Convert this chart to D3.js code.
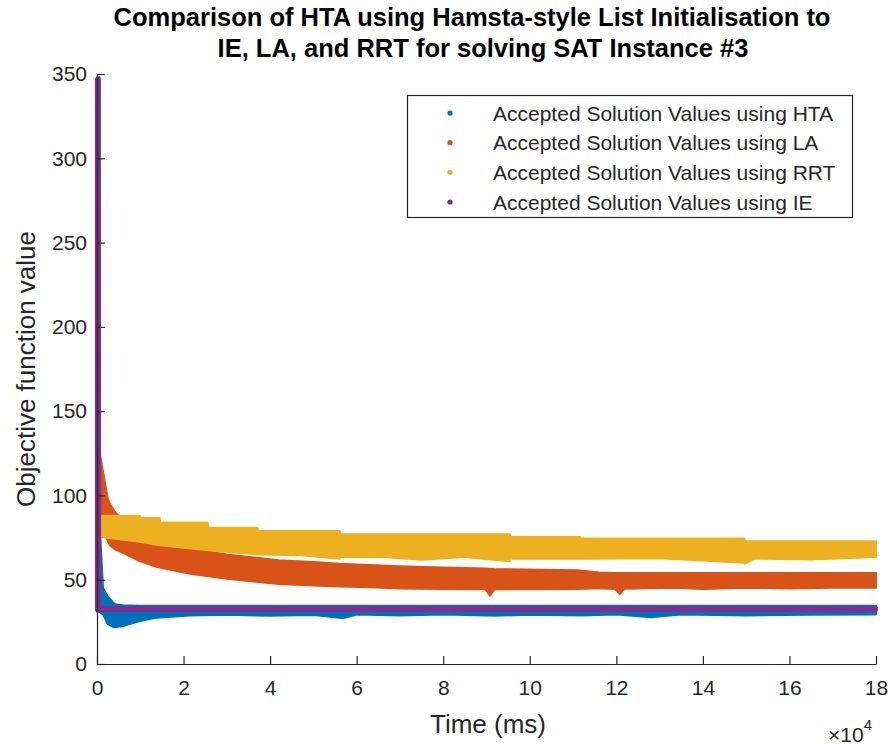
<!DOCTYPE html>
<html>
<head>
<meta charset="utf-8">
<script src="https://cdn.jsdelivr.net/npm/d3@7"></script>
<style>
  html, body { margin: 0; padding: 0; background: #fff; }
  svg { display: block; font-family: "Liberation Sans", Arial, Helvetica, sans-serif; }
</style>
</head>
<body>
<svg id="chart" width="890" height="745"></svg>
<script>
// ---------------- data ----------------
const titleLines = [
  "Comparison of HTA using Hamsta-style List Initialisation to",
  "IE, LA, and RRT for solving SAT Instance #3"
];
const xTickValues = [0, 2, 4, 6, 8, 10, 12, 14, 16, 18];      // ×10^4 ms
const yTickValues = [0, 50, 100, 150, 200, 250, 300, 350];
const seriesNames = [
  "Accepted Solution Values using HTA",
  "Accepted Solution Values using LA",
  "Accepted Solution Values using RRT",
  "Accepted Solution Values using IE"
];
const seriesColors = ["#0072BD", "#D95319", "#EDB120", "#7E2F8E"];

// Each series is drawn as the envelope (low / high) of its accepted values over time (ms)
const htaTime = [0, 600, 700, 1400, 2500, 3700, 4200, 6000, 9900, 13900, 21500, 30000, 40000, 50000, 57000, 60000, 70000, 80000, 92000, 100000, 112000, 120000, 128000, 135000, 150000, 165000, 180000];
const htaHigh = [348, 348, 78, 45, 40, 36.5, 35.5, 34.8, 34.6, 34.6, 34.6, 34.6, 34.6, 34.6, 34.6, 34.6, 34.6, 34.6, 34.6, 34.6, 34.6, 34.6, 34.6, 34.6, 34.6, 34.6, 34.6];
const htaLow  = [31, 31, 30.5, 29.5, 23.6, 22, 21.8, 22.5, 25.5, 27.5, 28.8, 29.2, 28.6, 29, 27.2, 29.3, 28.7, 29.3, 28.6, 29.2, 28.7, 29.4, 27.8, 29.3, 28.8, 29.2, 29.3];

const laTime = [400, 700, 1400, 2500, 3000, 4200, 6000, 9900, 13900, 21500, 30000, 42000, 50000, 56000, 63000, 70000, 80000, 89800, 90800, 91800, 111000, 116000, 119800, 120800, 121800, 133000, 140000, 150000, 160000, 170000, 180000];
const laHigh = [126, 124, 114, 98, 95, 90, 85, 79, 73.5, 68.5, 65, 61.5, 60.5, 59.5, 58.8, 58, 57.2, 56.6, 56.5, 56.4, 55.6, 54.3, 54, 54, 54, 54, 54, 54, 54, 54, 54];
const laLow  = [82, 80, 79, 73, 70.5, 68, 66, 61, 57.5, 53.5, 50.5, 47.5, 46.5, 46, 45.5, 44.8, 44.5, 44.3, 40.5, 44.3, 44.5, 45, 44.5, 41.5, 44.6, 45.2, 44.5, 45.3, 44.8, 45.2, 45.2];

const rrtTime = [400, 9900, 10000, 14500, 14600, 25600, 25700, 37100, 37200, 47000, 56100, 56200, 66000, 75000, 85000, 95400, 95500, 111600, 111700, 130000, 149600, 149700, 152000, 165000, 180000];
const rrtHigh = [88, 88, 86.6, 86.6, 84, 84, 80.8, 80.8, 78.9, 78.9, 78.9, 77, 77, 77, 77, 77, 75.3, 75.3, 74.5, 74.5, 74.5, 72.8, 72.8, 72.8, 72.8];
const rrtLow  = [75.5, 72.5, 72.4, 70.5, 70.5, 67.5, 67.5, 65, 65, 64.5, 62.5, 63.5, 63.5, 61.8, 63.5, 61, 62.5, 62.5, 62.5, 62.8, 60, 59.5, 62.5, 62, 63.5];

const ieTime = [0, 400, 500, 180000];
const ieHigh = [347, 347, 33.2, 33.2];
const ieLow  = [32, 32, 32, 32];

// ---------------- drawing ----------------
const svg = d3.select("#chart");
const axisColor = "#262626";

const x = d3.scaleLinear().domain([0, 180000]).range([97, 876]);
const y = d3.scaleLinear().domain([0, 350]).range([664, 74]);

const series = [
  { t: htaTime, hi: htaHigh, lo: htaLow, color: seriesColors[0], sw: 2 },
  { t: laTime,  hi: laHigh,  lo: laLow,  color: seriesColors[1], sw: 2 },
  { t: rrtTime, hi: rrtHigh, lo: rrtLow, color: seriesColors[2], sw: 2 },
  { t: ieTime,  hi: ieHigh,  lo: ieLow,  color: seriesColors[3], sw: 4 }
];

const area = d3.area()
  .x(d => x(d.t))
  .y0(d => y(d.lo))
  .y1(d => y(d.hi));

const gData = svg.append("g");
series.forEach(s => {
  const pts = s.t.map((t, i) => ({ t: t, hi: s.hi[i], lo: s.lo[i] }));
  gData.append("path")
    .attr("d", area(pts))
    .attr("fill", s.color)
    .attr("stroke", s.color)
    .attr("stroke-width", s.sw)
    .attr("stroke-linejoin", "round");
});

// axes (MATLAB style: box off, ticks inside)
const fmtX = d => String(d / 10000);
const xAxis = d3.axisBottom(x)
  .tickValues(xTickValues.map(v => v * 10000))
  .tickFormat(fmtX)
  .tickSizeInner(-8).tickSizeOuter(0).tickPadding(16);
const yAxis = d3.axisLeft(y)
  .tickValues(yTickValues)
  .tickSizeInner(-8).tickSizeOuter(0).tickPadding(10);

const gx = svg.append("g").attr("transform", `translate(0,${y(0)})`).call(xAxis);
const gy = svg.append("g").attr("transform", `translate(${x(0)},0)`).call(yAxis);
[gx, gy].forEach(g => {
  g.select(".domain").attr("stroke", axisColor).attr("stroke-width", 1.2);
  g.selectAll(".tick line").attr("stroke", axisColor).attr("stroke-width", 1.2);
  g.selectAll(".tick text")
    .attr("fill", axisColor)
    .style("font-size", "21px")
    .style("font-family", '"Liberation Sans", Arial, sans-serif');
});

// exponent label
const expG = svg.append("text")
  .attr("x", 872).attr("y", 742)
  .attr("text-anchor", "end")
  .attr("fill", axisColor)
  .style("font-size", "21px");
expG.append("tspan").text("\u00d710");
expG.append("tspan").attr("dy", -12).style("font-size", "15px").text("4");

// axis labels
svg.append("text")
  .attr("x", 488).attr("y", 733)
  .attr("text-anchor", "middle")
  .attr("fill", axisColor)
  .style("font-size", "26px")
  .text("Time (ms)");

svg.append("text")
  .attr("transform", `translate(35,${(74 + 664) / 2}) rotate(-90)`)
  .attr("text-anchor", "middle")
  .attr("fill", axisColor)
  .style("font-size", "26px")
  .text("Objective function value");

// title
const titleCenters = [472, 483];
titleLines.forEach((line, i) => {
  svg.append("text")
    .attr("x", titleCenters[i]).attr("y", 26 + i * 31)
    .attr("text-anchor", "middle")
    .attr("fill", "#000")
    .style("font-size", "25.5px")
    .style("font-weight", "bold")
    .text(line);
});

// legend
const legend = svg.append("g");
legend.append("rect")
  .attr("x", 407.5).attr("y", 95.5)
  .attr("width", 445).attr("height", 122)
  .attr("fill", "#fff")
  .attr("stroke", axisColor)
  .attr("stroke-width", 1.2);
const legY = d3.scalePoint().domain(seriesNames).range([113, 202]);
seriesNames.forEach((name, i) => {
  legend.append("circle")
    .attr("cx", 450).attr("cy", legY(name))
    .attr("r", 2.6)
    .attr("fill", seriesColors[i]);
  legend.append("text")
    .attr("x", 493).attr("y", legY(name))
    .attr("dy", "0.36em")
    .attr("fill", axisColor)
    .style("font-size", "21px")
    .text(name);
});
</script>
</body>
</html>
